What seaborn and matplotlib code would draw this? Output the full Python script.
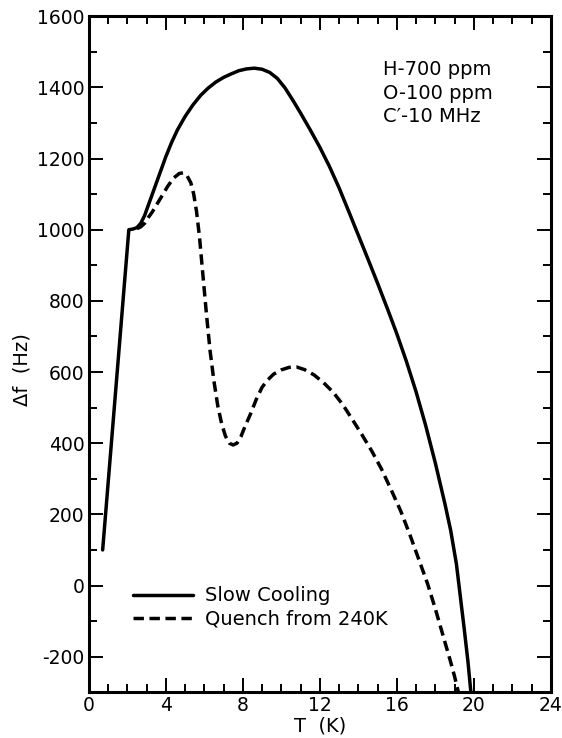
import numpy as np
import pandas as pd
import seaborn as sns
import matplotlib.pyplot as plt
from matplotlib.ticker import MultipleLocator

# Slow cooling curve (T in K, delta f in Hz)
slow_t = [0.72, 2.08, 2.3, 2.5, 2.7, 2.9, 3.1, 3.4, 3.7, 4.0, 4.3, 4.6, 5.0, 5.4,
          5.8, 6.2, 6.6, 7.0, 7.4, 7.8, 8.2, 8.6, 9.0, 9.4, 9.8, 10.2, 10.6, 11.0,
          11.5, 12.0, 12.5, 13.0, 13.5, 14.0, 14.5, 15.0, 15.5, 16.0, 16.5, 17.0,
          17.5, 18.0, 18.5, 18.8, 19.1, 19.3, 19.5, 19.7, 19.85]
slow_df = [100, 1000, 1002, 1006, 1018, 1040, 1070, 1115, 1160, 1205, 1245, 1280,
           1318, 1350, 1377, 1398, 1415, 1428, 1438, 1447, 1452, 1454, 1451, 1442,
           1425, 1398, 1364, 1328, 1281, 1232, 1178, 1118, 1052, 985, 918, 850, 780,
           708, 630, 545, 450, 345, 230, 155, 60, -30, -120, -215, -300]

# Quench from 240K curve
quench_t = [2.5, 2.7, 2.9, 3.1, 3.3, 3.5, 3.8, 4.1, 4.4, 4.7, 4.9, 5.1, 5.3, 5.45,
            5.6, 5.75, 5.9, 6.1, 6.3, 6.5, 6.7, 6.9, 7.1, 7.3, 7.5, 7.7, 7.9, 8.1,
            8.4, 8.7, 9.0, 9.3, 9.6, 10.0, 10.4, 10.8, 11.2, 11.7, 12.2, 12.7, 13.2,
            13.7, 14.2, 14.7, 15.2, 15.7, 16.2, 16.7, 17.2, 17.6, 18.0, 18.4, 18.8,
            19.0, 19.2]
quench_df = [1003, 1008, 1018, 1035, 1050, 1068, 1095, 1122, 1145, 1158, 1160, 1152,
             1132, 1100, 1050, 980, 890, 770, 660, 575, 505, 455, 420, 400, 395, 400,
             418, 445, 482, 523, 557, 578, 594, 606, 613, 614, 607, 592, 570, 543, 508,
             466, 423, 378, 328, 270, 210, 140, 65, 5, -65, -140, -215, -255, -300]

sns.set_style("ticks")
plt.rcParams['font.family'] = ['DejaVu Sans']
plt.rcParams['axes.unicode_minus'] = False
for k in ["text.color", "axes.labelcolor", "xtick.color", "ytick.color", "axes.edgecolor"]:
    plt.rcParams[k] = "black"

fig = plt.figure(figsize=(5.62, 7.38), dpi=100)
ax = fig.add_axes([0.158, 0.062, 0.822, 0.916])

slow = pd.DataFrame({"T": slow_t, "df": slow_df})
quench = pd.DataFrame({"T": quench_t, "df": quench_df})

sns.lineplot(data=slow, x="T", y="df", ax=ax, color="black", lw=2.5,
             sort=False, label="Slow Cooling")
sns.lineplot(data=quench, x="T", y="df", ax=ax, color="black", lw=2.5,
             sort=False, label="Quench from 240K")
ax.lines[1].set_dashes([3, 1.6])
ax.lines[0].set_solid_joinstyle("round")

ax.set_xlim(0, 24)
ax.set_ylim(-300, 1600)
ax.xaxis.set_major_locator(MultipleLocator(4))
ax.xaxis.set_minor_locator(MultipleLocator(1))
ax.yaxis.set_major_locator(MultipleLocator(200))
ax.yaxis.set_minor_locator(MultipleLocator(100))
ax.tick_params(which="both", direction="in", top=True, right=True, width=1.4,
               labelsize=13.5, pad=3)
ax.tick_params(which="major", length=10)
ax.tick_params(which="minor", length=5.5)
for s in ax.spines.values():
    s.set_linewidth(2.2)

ax.set_xlabel("T  (K)", fontsize=14, labelpad=1)
ax.set_ylabel("Δf  (Hz)", fontsize=14, labelpad=4)
ax.yaxis.set_label_coords(-0.125, 0.478)

ax.text(0.636, 0.935, "H-700 ppm\nO-100 ppm\nC\u2032-10 MHz", transform=ax.transAxes,
        fontsize=14, va="top", ha="left", linespacing=1.3)

# legend handles need dashes too
h, l = ax.get_legend_handles_labels()
leg = ax.legend(h, l, loc="upper left", bbox_to_anchor=(0.078, 0.168), frameon=False,
                fontsize=14, handlelength=3.1, handletextpad=0.6, labelspacing=0.2,
                borderaxespad=0)
leg.get_lines()[1].set_dashes([3, 1.6])

fig.savefig("out.png", dpi=100)
